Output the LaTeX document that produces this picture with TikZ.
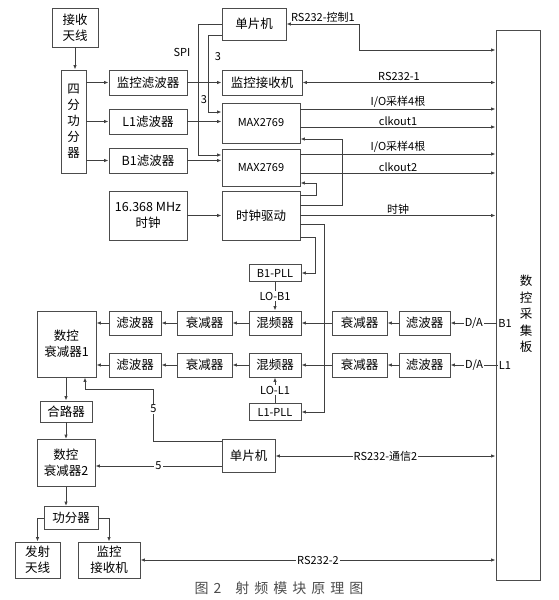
\documentclass[tikz,border=0pt]{standalone}
\usepackage{fontspec}
\setmainfont{Noto Sans CJK SC}
\usetikzlibrary{arrows.meta}

\begin{document}
\begin{tikzpicture}[x=1pt, y=-1pt, >={Latex[length=4.5pt,width=3.5pt]},
  box/.style={draw=black!70, line width=0.9pt, align=center, inner sep=0pt, font=\fontsize{12.5}{16}\selectfont},
  small/.style={font=\fontsize{11}{13}\selectfont},
  lbl/.style={small, inner sep=1pt},
  lnk/.style={draw=black!75, line width=0.9pt, ->},
  dbl/.style={draw=black!75, line width=0.9pt, <->}]
\useasboundingbox (0,0) rectangle (558,600);

\node [box, minimum width=46pt, minimum height=39pt] (ant) at (75,27.5) {接收\\天线};
\node [box, minimum width=25pt, minimum height=103pt] (split) at (73.5,121.5) {四\\分\\功\\分\\器};
\node [box, minimum width=78pt, minimum height=25pt] (monflt) at (148,82.5) {监控滤波器};
\node [box, minimum width=78pt, minimum height=25pt] (l1flt) at (148,121.5) {L1滤波器};
\node [box, minimum width=78pt, minimum height=25pt] (b1flt) at (148,160.5) {B1滤波器};
\node [box, minimum width=78pt, minimum height=49pt] (osc) at (148,215.5) {16.368 MHz\\时钟};

\node [box, minimum width=64pt, minimum height=32pt] (mcu1) at (254,24) {单片机};
\node [box, minimum width=80pt, minimum height=25pt] (mrx) at (262,82.5) {监控接收机};
\node [box, small, minimum width=78pt, minimum height=40pt] (maxa) at (261,123) {MAX2769};
\node [box, small, minimum width=78pt, minimum height=37pt] (maxb) at (261,167.5) {MAX2769};
\node [box, minimum width=78pt, minimum height=49pt] (drv) at (261,215.5) {时钟驱动};

\node [box, small, minimum width=52pt, minimum height=17pt] (bpll) at (275,273) {B1-PLL};
\node [box, small, minimum width=52pt, minimum height=17pt] (lpll) at (275,412) {L1-PLL};

\node [box, minimum width=52pt, minimum height=24pt] (bflt1) at (135,323) {滤波器};
\node [box, minimum width=55pt, minimum height=24pt] (batt1) at (204.5,323) {衰减器};
\node [box, minimum width=52pt, minimum height=24pt] (bmix) at (275,323) {混频器};
\node [box, minimum width=55pt, minimum height=24pt] (batt2) at (359.5,323) {衰减器};
\node [box, minimum width=51pt, minimum height=24pt] (bflt2) at (424.5,323) {滤波器};

\node [box, minimum width=52pt, minimum height=24pt] (lflt1) at (135,365) {滤波器};
\node [box, minimum width=55pt, minimum height=24pt] (latt1) at (204.5,365) {衰减器};
\node [box, minimum width=52pt, minimum height=24pt] (lmix) at (275,365) {混频器};
\node [box, minimum width=55pt, minimum height=24pt] (latt2) at (359.5,365) {衰减器};
\node [box, minimum width=51pt, minimum height=24pt] (lflt2) at (424.5,365) {滤波器};

\node [box, minimum width=59pt, minimum height=66pt] (dca1) at (66.5,344) {数控\\衰减器1};
\node [box, minimum width=52pt, minimum height=21pt] (comb) at (66,411.5) {合路器};
\node [box, minimum width=58pt, minimum height=47pt] (dca2) at (66,463) {数控\\衰减器2};
\node [box, minimum width=53pt, minimum height=33pt] (mcu2) at (248.5,456) {单片机};
\node [box, minimum width=54pt, minimum height=23pt] (pdiv) at (71,518) {功分器};
\node [box, minimum width=45pt, minimum height=36pt] (tx) at (37.5,560) {发射\\天线};
\node [box, minimum width=62pt, minimum height=36pt] (mrx2) at (109,560) {监控\\接收机};

\node [box, minimum width=44pt, minimum height=550pt] (board) at (518,305) {};
\node [align=center, font=\fontsize{12.5}{16.5}\selectfont] (brdlbl) at (526,314) {数\\控\\采\\集\\板};
\node [lbl] (bsig) at (505,323) {B1};
\node [lbl] (lsig) at (505,365) {L1};

\node [lbl] (spi) at (182,52) {SPI};
\node [lbl] (n3a) at (218,57) {3};
\node [lbl] (n3b) at (204,100) {3};

\draw [lnk] (ant.south) -- (ant.south |- split.north);
\draw [lnk] (split.east |- monflt) -- (monflt.west);
\draw [lnk] (split.east |- l1flt) -- (l1flt.west);
\draw [lnk] (split.east |- b1flt) -- (b1flt.west);
\draw [lnk] (monflt) -- (mrx);
\draw [lnk] (l1flt.east) -- (l1flt -| maxa.west);
\draw [lnk] (b1flt.east) -- (b1flt -| maxb.west);
\draw [lnk] (osc) -- (drv);

\draw [lnk] (mcu1.west) -- ++(-23,0) |- ([yshift=12.5pt]maxb.west);
\draw [lnk] ([yshift=-11pt]mcu1.west) -- ++(-13,0) |- ([yshift=11pt]maxa.west);

\draw [dbl] (mcu1.east) -- node [lbl, above] {RS232-控制1} ++(73,0) |- (board.west |- 0,50);
\draw [dbl] (mrx.east) -- node [lbl, above] {RS232-1} (mrx.east -| board.west);
\draw [lnk] ([yshift=14pt]maxa.east) -- node [lbl, above] {I/O采样4根} ([yshift=14pt]maxa.east -| board.west);
\draw [lnk] ([yshift=-4pt]maxa.east) -- node [lbl, above] {clkout1} ([yshift=-4pt]maxa.east -| board.west);
\draw [lnk] ([yshift=13.5pt]maxb.east) -- node [lbl, above] {I/O采样4根} ([yshift=13.5pt]maxb.east -| board.west);
\draw [lnk] ([yshift=-5.5pt]maxb.east) -- node [lbl, above] {clkout2} ([yshift=-5.5pt]maxb.east -| board.west);
\draw [lnk] (drv.east) -- node [lbl, above] {时钟} (drv.east -| board.west);

\draw [lnk] ([yshift=10.5pt]drv.east) -- ++(42,0) |- ([yshift=-16pt]maxa.east);
\draw [lnk] ([yshift=20.5pt]drv.east) -- ++(16,0) |- ([yshift=-15.5pt]maxb.east);
\draw [lnk] ([yshift=-21.5pt]drv.east) -- ++(15,0) |- (bpll.east);
\draw [lnk] ([yshift=-8.5pt]drv.east) -- ++(24,0) |- (lpll.east);

\draw [lnk] (bpll) -- node [lbl, fill=white] {LO-B1} (bmix);
\draw [lnk] (lpll) -- node [lbl, fill=white] {LO-L1} (lmix);

\draw [lnk] (bsig.west) -- node [lbl, fill=white] {D/A} (bflt2.east);
\path [lnk] (bflt2) edge (batt2) (batt2) edge (bmix) (bmix) edge (batt1) (batt1) edge (bflt1);
\draw [lnk] (bflt1.west) -- (bflt1 -| dca1.east);
\draw [lnk] (lsig.west) -- node [lbl, fill=white] {D/A} (lflt2.east);
\path [lnk] (lflt2) edge (latt2) (latt2) edge (lmix) (lmix) edge (latt1) (latt1) edge (lflt1);
\draw [lnk] (lflt1.west) -- (lflt1 -| dca1.east);

\draw [lnk] (comb |- dca1.south) -- (comb.north);
\draw [lnk] (comb.south) -- (comb.south |- dca2.north);
\draw [lnk] (dca2.south) -- (dca2.south |- pdiv.north);
\draw [lnk] (pdiv.west) -| (tx.north);
\draw [lnk] (pdiv.east) -| (mrx2.north);

\draw [lnk] ([yshift=15pt]mcu2.west) -- ++(-68,0) -- node [lbl, fill=white, pos=0.62] {5} ++(0,-52) -| ([xshift=18.5pt]dca1.south);
\draw [lnk] ([yshift=-10pt]mcu2.west) -- node [lbl, fill=white] {5} ([yshift=-10pt]mcu2.west -| dca2.east);
\draw [dbl] (mcu2.east) -- node [lbl, fill=white] {RS232-通信2} (mcu2.east -| board.west);
\draw [dbl] (mrx2.east) -- node [lbl, fill=white] {RS232-2} (mrx2.east -| board.west);

\node [font=\fontsize{14}{16}\selectfont, text=black!70] (cap) at (279,588) {图\hspace{5pt}2\hspace{14pt}射\hspace{5pt}频\hspace{5pt}模\hspace{5pt}块\hspace{5pt}原\hspace{5pt}理\hspace{5pt}图};

\end{tikzpicture}
\end{document}
